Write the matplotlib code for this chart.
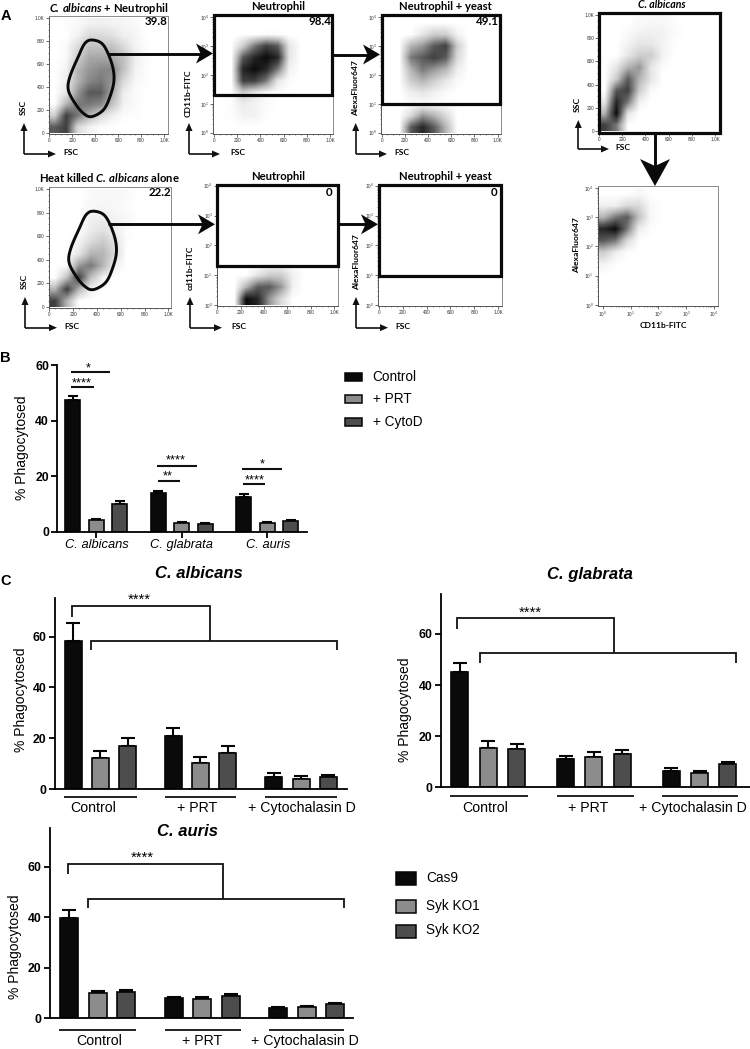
import numpy as np
import matplotlib
matplotlib.use("Agg")
import matplotlib.pyplot as plt
from matplotlib.patches import Rectangle, Polygon
from matplotlib.colors import LinearSegmentedColormap

plt.rcParams['font.family'] = ['Liberation Sans', 'DejaVu Sans']
plt.rcParams['mathtext.fontset'] = 'custom'
plt.rcParams['mathtext.rm'] = 'Liberation Sans'
plt.rcParams['mathtext.it'] = 'Liberation Sans:italic'
plt.rcParams['mathtext.bf'] = 'Lato:bold'
plt.rcParams['mathtext.bfit'] = 'Lato:italic:bold'

W, H = 750, 1049
FLOW = 'Lato'
COL = ['#0a0a0a', '#8c8c8c', '#4d4d4d']

# ---------- bar data ----------
b_species = ['C. albicans', 'C. glabrata', 'C. auris']
b_series = ['Control', '+ PRT', '+ CytoD']
b_values = [[47.5, 4.2, 10.0], [13.8, 3.2, 2.7], [12.5, 3.0, 3.9]]
b_errors = [[1.2, 0.5, 1.0], [0.9, 0.4, 0.4], [1.0, 0.4, 0.4]]

c_groups = ['Control', '+ PRT', '+ Cytochalasin D']
c_series = ['Cas9', 'Syk KO1', 'Syk KO2']
alb_values = [[58.5, 12.3, 17.0], [21.0, 10.2, 14.0], [4.8, 3.8, 4.7]]
alb_errors = [[7.0, 2.7, 3.2], [3.0, 2.3, 3.0], [1.5, 1.2, 0.8]]
gla_values = [[45.0, 15.5, 14.8], [11.2, 11.8, 13.0], [6.5, 5.5, 9.0]]
gla_errors = [[3.5, 2.5, 2.2], [1.2, 2.0, 1.6], [1.1, 0.8, 0.9]]
aur_values = [[39.5, 10.0, 10.5], [8.0, 7.8, 8.9], [4.0, 4.3, 5.5]]
aur_errors = [[3.5, 0.8, 0.8], [0.4, 0.6, 0.7], [0.6, 0.6, 0.5]]

# ---------- flow density read by eye (0 none .. 9 saturated), top row first ----------
d_a1 = [[0,.1,.2,.5,.6,.5,.4,.2,0,0],[0,0,.5,1.5,1.5,1.2,.6,.4,0,0],[0,.2,1.5,2.5,2.5,2.5,1.5,.5,.1,0],
        [0,.2,2,3.5,3.5,3.5,2.5,.7,.1,0],[0,.5,3,4,4.5,4.5,2.5,.5,.1,0],[0,.7,3,4.5,5,4,1.5,.3,.1,0],
        [0,1,4,6,6,3.5,.7,.2,0,0],[0,3,5,5,4.5,2.5,.5,.2,0,0],[2,7,5,3,1.5,.6,.1,.1,0,0],[6,7,1.5,.5,.1,0,0,0,0,0]]
d_a2 = [[0]*10,[0,0,0,0,.1,.1,0,0,0,0],[0,0,2,5,7,6,1,0,0,0],[0,0,6,8,9,8,1,0,0,0],[0,0,8,9,8,5,.5,0,0,0],
        [0,0,7,7,5,1,.1,0,0,0],[0,0,2,1,.3,.1,0,0,0,0],[0,.1,.8,.5,.2,0,0,0,0,0],[0,.1,.5,.5,.1,0,0,0,0,0],[0]*10]
d_a3 = [[0]*10,[0,0,0,1,2,2,.5,0,0,0],[0,0,3,4,6,7,2,0,0,0],[0,0,5,6,7,6,1.5,0,0,0],[0,0,3,5,4,3,.7,0,0,0],
        [0,0,2,3,2,1,.2,0,0,0],[0,0,.7,1,.6,.2,0,0,0,0],[0,0,.1,.2,.1,0,0,0,0,0],[0,0,1.5,4,3,1.5,0,0,0,0],[0,0,6,8,6,3,0,0,0,0]]
d_a4 = [[0,0,0,.2,.3,.3,.2,0,0,0],[0,0,0,.3,.4,.3,.1,0,0,0],[0,0,0,.6,.7,.5,.3,0,0,0],[0,0,.1,.8,1.2,.7,.1,0,0,0],
        [0,0,.5,1.5,2.2,1.2,.1,0,0,0],[0,0,1,3,3,1.5,0,0,0,0],[0,.2,4,5,3,.6,0,0,0,0],[0,2.5,7,2.5,.6,0,0,0,0,0],
        [3,7,3,.5,0,0,0,0,0,0],[7,3,0,0,0,0,0,0,0,0]]
d_a5 = [[0]*10,[0]*10,[0]*10,[0]*10,[0]*10,[0]*10,[0]*10,[0,0,0,1,2,2,.6,0,0,0],
        [0,0,3,6,6,4,.5,0,0,0],[0,0,9,8,4,1.5,0,0,0,0]]
d_a7 = [[0,0,0,.2,.3,.3,.1,0,0,0],[0,0,.2,.5,.6,.5,.2,0,0,0],[0,0,.5,1,1,.5,.1,0,0,0],[0,0,1,2,2,.5,0,0,0,0],
        [0,1,3,4,1,.1,0,0,0,0],[0,2,6,3,1,0,0,0,0,0],[0,6,7,2,.2,0,0,0,0,0],[1,8,5,.5,0,0,0,0,0,0],
        [3,9,1,0,0,0,0,0,0,0],[7,5,0,0,0,0,0,0,0,0]]
d_a8 = [[0,0,0,.3,0,0,0,0,0,0],[.6,.6,1.5,1.5,.3,0,0,0,0,0],[3,5,6,2.5,.3,0,0,0,0,0],[8,9,5,.7,.1,0,0,0,0,0],
        [6,5,1.5,.1,0,0,0,0,0,0],[2,.7,.1,0,0,0,0,0,0,0],[.5,.1,0,0,0,0,0,0,0,0],[0]*10,[0]*10,[0]*10]
gate_x = [378,471,544,564,529,471,369,297,224,166,180,253,311]
gate_y = [811,768,609,464,319,203,145,174,261,377,493,667,783]

fig = plt.figure(figsize=(W/100, H/100), dpi=100)
cm = LinearSegmentedColormap.from_list('d', ['#ffffff', '#b5b5b5', '#5a5a5a', '#0c0c0c'])


def axbox(l, t, r, b):
    return fig.add_axes([l/W, 1-b/H, (r-l)/W, (b-t)/H])


def lim(a, b, p0, v0, p1, v1):
    s = (v1-v0)/(p1-p0)
    return v0+(a-p0)*s, v0+(b-p0)*s


def smooth(x, y, n=14):
    p = np.column_stack([x, y]).astype(float)
    out = []
    m = len(p)
    for i in range(m):
        p0, p1, p2, p3 = p[i-1], p[i], p[(i+1) % m], p[(i+2) % m]
        for t in np.linspace(0, 1, n, endpoint=False):
            out.append(0.5*(2*p1+(p2-p0)*t+(2*p0-5*p1+4*p2-p3)*t*t+(3*p1-p0-3*p2+p3)*t**3))
    return np.array(out)


def flow(box, xa, ya, grid, xlog=False, ylog=False):
    l, t, r, b = box
    ax = axbox(l, t, r, b)
    x_max = 4 if xlog else 1000
    y_max = 4 if ylog else 1000
    xl = lim(l, r, xa[0], 0, xa[1], x_max)
    yl = lim(b, t, ya[0], 0, ya[1], y_max)
    if grid is not None:
        ax.imshow(np.array(grid, float), cmap=cm, vmin=0, vmax=9, aspect='auto',
                  interpolation='bilinear', extent=[xl[0] if xlog else 0, x_max, 0, y_max], origin='upper')
    ax.set_xlim(*xl)
    ax.set_ylim(*yl)
    for s in ['top', 'right']:
        ax.spines[s].set_color('#8a8a8a')
        ax.spines[s].set_linewidth(0.7)
    for s in ['left', 'bottom']:
        ax.spines[s].set_color('#555555')
        ax.spines[s].set_linewidth(0.7)

    def dress(axis, is_log):
        if is_log:
            axis.set_ticks(range(5))
            axis.set_ticklabels([f'$10^{{{k}}}$' for k in range(5)])
            axis.set_ticks([k+np.log10(m) for k in range(4) for m in range(2, 10)], minor=True)
        else:
            axis.set_ticks(range(0, 1001, 200))
            axis.set_ticklabels(['0', '200', '400', '600', '800', '1.0K'])
            axis.set_ticks(range(0, 1001, 50), minor=True)
    dress(ax.xaxis, xlog)
    dress(ax.yaxis, ylog)
    ax.tick_params(which='major', labelsize=3.4, length=2, width=0.5, pad=1, colors='#333333')
    ax.tick_params(which='minor', length=1, width=0.4, colors='#333333')
    return ax


a1 = flow((48.7, 15.7, 168, 134.3), (49.3, 164), (133.3, 18.3), d_a1)
a2 = flow((213.3, 14, 333.3, 134), (214, 330), (132.7, 17.3), d_a2, ylog=True)
a3 = flow((381, 14, 501, 134), (381.7, 497.5), (132.7, 17.3), d_a3, ylog=True)
a4 = flow((48.7, 186.7, 171.3, 308.3), (49.3, 168.3), (306.7, 189), d_a4)
a5 = flow((216.7, 184.3, 338, 306), (217.3, 334), (305, 185.7), d_a5, ylog=True)
a6 = flow((378.3, 184.3, 501.7, 306), (379, 498), (305, 185.7), None, ylog=True)
a7 = flow((598.3, 12, 720, 132.7), (599, 715), (131, 15), d_a7)
a8 = flow((597.7, 186, 718.3, 306), (602.7, 714), (305, 188), d_a8, xlog=True, ylog=True)

outline = smooth(gate_x, gate_y)
for ax in (a1, a4):
    ax.add_patch(Polygon(outline, closed=True, fill=False, ec='#0a0a0a', lw=2.1, zorder=5))


def bars(ax, starts, step, width, values, errors, cap, lw=1.2):
    for g, x0 in enumerate(starts):
        for s in range(3):
            x = x0 + s*step
            ax.bar(x, values[g][s], width=width, color=COL[s], edgecolor='#050505', linewidth=lw, zorder=2)
            ax.errorbar(x, values[g][s], yerr=[[0], [errors[g][s]]], color='#050505', capsize=cap,
                        capthick=1.5, elinewidth=1.5, zorder=1)


def style(ax):
    for s in ['top', 'right']:
        ax.spines[s].set_visible(False)
    for s in ['left', 'bottom']:
        ax.spines[s].set_linewidth(1.3)
    ax.set_yticks([0, 20, 40, 60])
    ax.tick_params(axis='y', length=4, width=1.3, pad=2, labelsize=8.8)
    for t in ax.get_yticklabels():
        t.set_fontweight('bold')


# ---------- panel B ----------
l, r, y0, y60, top = 57.3, 306.7, 531.7, 365, 365
ax = axbox(l, top, r, y0)
ax.set_xlim(l, r)
ax.set_ylim(0, 60)
style(ax)
b_starts = [72.5, 158.2, 243.8]
bars(ax, b_starts, 23.6, 15, b_values, b_errors, 3.6)
ax.set_xticks([s+23.6 for s in b_starts])
ax.set_xticklabels([])
ax.tick_params(axis='x', length=4, width=1.3)

# ---------- panel C ----------
def cpanel(l, r, top, y0, y60, starts, step, width, vals, errs):
    ax = axbox(l, top, r, y0)
    ax.set_xlim(l, r)
    ax.set_ylim(0, (y0-top)/((y0-y60)/60))
    style(ax)
    ax.set_xticks([])
    bars(ax, starts, step, width, vals, errs, 5)
    return ax


cpanel(55, 346.7, 597.7, 789, 636.7, [73.3, 173.3, 274], 27.2, 17, alb_values, alb_errors)
cpanel(440.7, 750, 594.3, 787.3, 634, [460, 565.7, 671.3], 28.3, 17, gla_values, gla_errors)
cpanel(50, 353, 828, 1018.3, 866.7, [69, 173.5, 278], 28.5, 18, aur_values, aur_errors)

# ---------- overlay in figure pixels ----------
ov = fig.add_axes([0, 0, 1, 1], zorder=10)
ov.set_xlim(0, W)
ov.set_ylim(H, 0)
ov.axis('off')
ov.patch.set_alpha(0)


def T(x, y, s, **k):
    k.setdefault('ha', 'center')
    k.setdefault('va', 'center')
    ov.text(x, y, s, **k)


def line(xs, ys, lw=1.3, c='#111111'):
    ov.plot(xs, ys, color=c, lw=lw, solid_capstyle='butt', solid_joinstyle='miter', clip_on=False)


for x, y, s in [(5.7, 15.7, 'A'), (5, 357.7, 'B'), (5.7, 580.7, 'C')]:
    T(x, y, s, fontsize=10.5, fontweight='bold')

# gate rectangles
for (x0, y0, x1, y1) in [(214, 14.5, 332, 95), (381.5, 14.5, 499.5, 103.7), (217, 185, 338, 266),
                         (379, 185, 501, 275.7), (599, 12.5, 720, 132.5)]:
    ov.add_patch(Rectangle((x0, y0), x1-x0, y1-y0, fill=False, ec='#0a0a0a', lw=2.3, joinstyle='miter'))


def big_h(x0, x1, y):
    line([x0, x1-8], [y, y], lw=2.1, c='#0a0a0a')
    ov.add_patch(Polygon([(x1, y), (x1-17, y-10), (x1-12.5, y), (x1-17, y+10)], fc='#0a0a0a', ec='none'))


big_h(108, 213, 53.5)
big_h(333, 380, 54.5)
big_h(108, 215, 224.3)
big_h(338, 378, 224.3)
line([655, 655], [133, 172], lw=2.1, c='#0a0a0a')
ov.add_patch(Polygon([(655, 186), (640, 159), (655, 166), (670, 159)], fc='#0a0a0a', ec='none'))


def mini(ox, oy, tipy, tipx):
    line([ox, ox], [oy, tipy+4], lw=1.2)
    line([ox, tipx-4], [oy, oy], lw=1.2)
    ov.add_patch(Polygon([(ox, tipy), (ox-3.5, tipy+8), (ox+3.5, tipy+8)], fc='#111111', ec='none'))
    ov.add_patch(Polygon([(tipx, oy), (tipx-8, oy-3.5), (tipx-8, oy+3.5)], fc='#111111', ec='none'))


for ox, oy, ty, tx in [(24, 154, 123, 56), (189, 154, 123, 220), (355.7, 154, 123, 387),
                       (25, 327.7, 297, 57), (190, 327.7, 297, 222), (356, 327.7, 297, 388),
                       (578.3, 149, 120, 609)]:
    mini(ox, oy, ty, tx)

fl = dict(family=FLOW, fontweight='bold', fontsize=6.1)
for x, y, s in [(70.7, 152.7, 'FSC'), (238, 152.7, 'FSC'), (402, 152.7, 'FSC'), (71.7, 326.7, 'FSC'),
                (239, 326.7, 'FSC'), (403, 326.7, 'FSC'), (623.3, 147.7, 'FSC'), (663, 325, 'CD11b-FITC')]:
    T(x, y, s, **fl)
for x, y, s in [(23, 107, 'SSC'), (188, 93, 'CD11b-FITC'), (355.7, 88, 'AlexaFluor647'), (24, 281.7, 'SSC'),
                (190, 268, 'cd11b-FITC'), (356.7, 261.7, 'AlexaFluor647'), (577.3, 104, 'SSC'),
                (577, 245, 'AlexaFluor647')]:
    T(x, y, s, rotation=90, **fl)

tl = dict(family=[FLOW], fontweight='bold', fontsize=8.1)
T(109, 9, r'$\mathbfit{C.\,albicans}$ + Neutrophil', **tl)
T(277.7, 6.7, 'Neutrophil', **tl)
T(445, 6.7, 'Neutrophil + yeast', **tl)
T(109, 177, r'Heat killed $\mathbfit{C.\,albicans}$ alone', **tl)
T(277.7, 176.7, 'Neutrophil', **tl)
T(445, 176.7, 'Neutrophil + yeast', **tl)
T(661.7, 5, 'C. albicans', family=FLOW, fontweight='bold', fontstyle='italic', fontsize=7.6)
nums = dict(family=FLOW, fontweight='bold', fontsize=8.3)
T(168, 21.7, '39.8', ha='right', **nums)
T(331.7, 21.7, '98.4', ha='right', **nums)
T(499, 21.7, '49.1', ha='right', **nums)
T(171.7, 192.7, '22.2', ha='right', **nums)
T(329, 192.5, '0', **nums)
T(493.7, 192.5, '0', **nums)

# panel B text
T(22, 448, '% Phagocytosed', rotation=90, fontsize=10)
for x, s in zip([96.7, 181.7, 267.7], b_species):
    T(x, 545, s, fontsize=9.3, fontstyle='italic')
for (x0, x1, y, tx, ty, s) in [(71.3, 110, 372.3, 88.7, 368.5, '*'), (71.3, 94, 387, 82, 383.5, '****'),
                               (157.3, 196.7, 465.7, 176, 460.5, '****'), (158.3, 180, 480.7, 167.7, 476, '**'),
                               (242.3, 281.7, 469.3, 262.7, 464.5, '*'), (243.3, 265, 484.3, 254.3, 480, '****')]:
    line([x0, x1], [y, y], lw=1.5)
    T(tx, ty, s, fontsize=9.2)
for y, c, s in zip([376.7, 399, 421.7], COL, b_series):
    ov.add_patch(Rectangle((345, y-4), 17, 8, fc=c, ec='#050505', lw=1.1))
    T(372.7, y, s, ha='left', fontsize=9.8)

# panel C text
def ctext(title, tx, ty, lab, stars, upper, lower, groups, labels, gy, ly):
    T(tx, ty, title, fontsize=12, fontweight='bold', fontstyle='italic')
    T(lab[0], lab[1], '% Phagocytosed', rotation=90, fontsize=10)
    T(stars[0], stars[1], '****', fontsize=10.6)
    line(*upper)
    line(*lower)
    for g in groups:
        line(g, [gy, gy], lw=1.3)
    for x, s in zip(labels, c_groups):
        T(x, ly, s, fontsize=10.2)


ctext('C. albicans', 198.7, 573.3, (20.7, 700), (139.3, 600),
      ([72.3, 72.3, 209.7, 209.7], [616.7, 606, 606, 640.7]),
      ([91.3, 91.3, 337, 337], [650, 640.7, 640.7, 650]),
      [[63.7, 137.3], [164.7, 236], [265, 337.3]], [93, 196.7, 301.7], 796.7, 807.7)
ctext('C. glabrata', 590.3, 574, (405, 710), (530, 612.5),
      ([457.3, 457.3, 613.7, 613.7], [629, 618.3, 618.3, 653]),
      ([479.7, 479.7, 736.3, 736.3], [662.7, 653, 653, 662.7]),
      [[450.3, 527.7], [556.7, 634], [661.7, 738.3]], [485, 588.3, 693.3], 796.3, 807.7)
ctext('C. auris', 187.7, 832, (15, 946.7), (142.7, 857.5),
      ([68.3, 68.3, 223, 223], [874.3, 863.7, 863.7, 898.7]),
      ([88.3, 88.3, 344, 344], [908.3, 898.7, 898.7, 908.3]),
      [[59.3, 136], [164.7, 240.7], [269, 344]], [99, 201.7, 305], 1030, 1041)

for y, c, s in zip([878.7, 906.7, 931.3], COL, c_series):
    ov.add_patch(Rectangle((396, y-6.3), 19.5, 12.6, fc=c, ec='#050505', lw=1.1))
    T(426, y-1, s, ha='left', fontsize=9.8)

fig.savefig('out.png', dpi=100)
